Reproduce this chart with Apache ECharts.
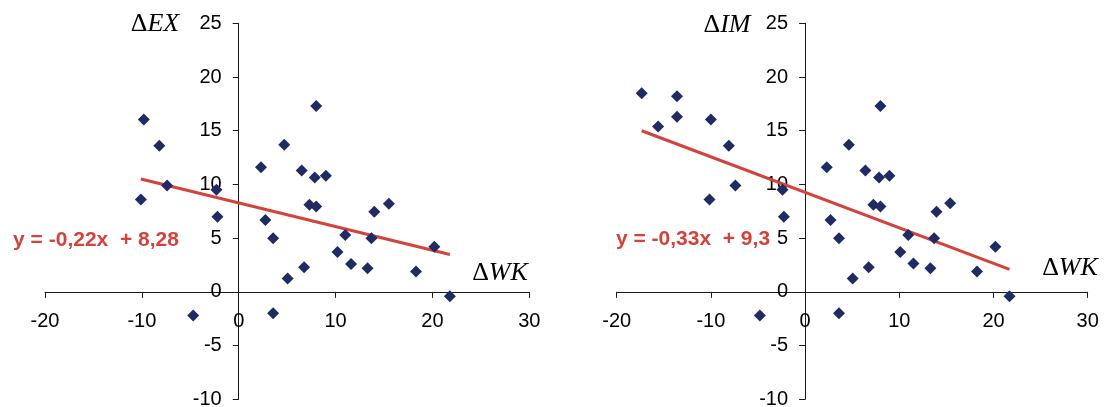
<!DOCTYPE html>
<html>
<head>
<meta charset="utf-8">
<script src="https://cdn.jsdelivr.net/npm/echarts@6/dist/echarts.min.js"></script>
<style>
html,body{margin:0;padding:0;background:#fff;}
#chart{width:1104px;height:407px;}
</style>
</head>
<body>
<div id="chart"></div>
<script>
// ---- data ----
const xAxisRange = [-20, 30, 10];   // min, max, interval (ΔWK)
const yAxisRange = [-10, 25, 5];    // min, max, interval

// Left panel: ΔWK vs ΔEX
const wkLeft = [-9.8, -8.2, -7.4, -10.1, -2.3, 2.3, 4.7, 6.5, 8.0, 7.85, 9.0, 7.3, 8.0, 14.0, 15.5,
  -2.2, 2.75, 3.55, 5.05, 6.75, 10.2, 11.0, 11.6, 13.3, 13.7, 18.3, 20.2, 21.8, -4.7, 3.55];
const exValues = [16.05, 13.6, 9.9, 8.6, 9.5, 11.6, 13.7, 11.3, 17.3, 10.65, 10.8, 8.1, 7.95, 7.45, 8.2,
  7.0, 6.7, 5.0, 1.25, 2.3, 3.7, 5.3, 2.6, 2.2, 5.0, 1.9, 4.2, -0.4, -2.2, -2.0];

// Right panel: ΔWK vs ΔIM
const wkRight = [-17.35, -15.6, -13.6, -13.6, -10.0, -8.1, -7.4, -10.15, -2.4, 2.3, 4.65, 6.4, 8.0, 7.85, 8.95, 7.25, 8.0, 13.95, 15.4,
  -2.25, 2.7, 3.6, 5.05, 6.75, 10.1, 10.95, 11.5, 13.3, 13.7, 18.25, 20.2, 21.7, -4.8, 3.6];
const imValues = [18.5, 15.4, 18.2, 16.3, 16.05, 13.6, 9.9, 8.6, 9.5, 11.6, 13.7, 11.3, 17.3, 10.65, 10.8, 8.1, 7.95, 7.45, 8.25,
  7.0, 6.7, 5.0, 1.25, 2.3, 3.7, 5.3, 2.65, 2.2, 5.0, 1.9, 4.2, -0.4, -2.2, -2.0];

// Trend lines (end points as drawn)
const trendLeftX = [-10.1, 21.8];
const trendLeftY = [10.5, 3.48];
const trendRightX = [-17.35, 21.7];
const trendRightY = [15.0, 2.1];

const eqLeft = 'y = -0,22x  + 8,28';
const eqRight = 'y = -0,33x  + 9,3';
const titleLeftY = 'EX';
const titleRightY = 'IM';
const titleX = 'WK';

// ---- chart ----
const pts = (xs, ys) => xs.map((x, i) => [x, ys[i]]);
const markerColor = '#1f2b62';
const lineColor = '#d4423c';
const fontSans = '"Liberation Sans", Arial, sans-serif';
const fontSerif = '"Liberation Serif", "Times New Roman", serif';

const gridTop = 23.3, gridH = 376;
const grids = [
  { left: 45, width: 484.3 },
  { left: 616.7, width: 471 }
];
// axes cross at zero: shift each axis into the plot by the distance to the zero of the other axis
function yZeroOffset() {
  return -gridH * (0 - yAxisRange[0]) / (yAxisRange[1] - yAxisRange[0]);
}
function xZeroOffset(gi) {
  return -grids[gi].width * (0 - xAxisRange[0]) / (xAxisRange[1] - xAxisRange[0]);
}

function xAx(gi) {
  return {
    gridIndex: gi, type: 'value', position: 'bottom', offset: yZeroOffset(),
    min: xAxisRange[0], max: xAxisRange[1], interval: xAxisRange[2],
    axisLine: { show: true, onZero: false, lineStyle: { color: '#1a1a1a', width: 1 } },
    axisTick: { show: true, inside: false, length: 6, lineStyle: { color: '#1a1a1a' } },
    axisLabel: { show: true, color: '#000', fontSize: 20, fontFamily: fontSans, margin: 20 },
    splitLine: { show: false }
  };
}
function yAx(gi) {
  return {
    gridIndex: gi, type: 'value', position: 'left', offset: xZeroOffset(gi),
    min: yAxisRange[0], max: yAxisRange[1], interval: yAxisRange[2],
    axisLine: { show: true, onZero: false, lineStyle: { color: '#1a1a1a', width: 1 } },
    axisTick: { show: true, inside: false, length: 6, lineStyle: { color: '#1a1a1a' } },
    axisLabel: { show: true, color: '#000', fontSize: 20, fontFamily: fontSans, margin: 17 },
    splitLine: { show: false }
  };
}
function richTitle(name, x, y) {
  return {
    type: 'text', x: x, y: y,
    style: {
      text: '{d|Δ}{i|' + name + '}',
      align: 'center', verticalAlign: 'middle',
      rich: {
        d: { fontFamily: fontSerif, fontSize: 26, fill: '#000', fontStyle: 'normal' },
        i: { fontFamily: fontSerif, fontSize: 26, fill: '#000', fontStyle: 'italic' }
      }
    }
  };
}
function eqText(t, x, y) {
  return {
    type: 'text', x: x, y: y,
    style: { text: t, align: 'center', verticalAlign: 'middle', fill: lineColor,
      font: 'bold 21px ' + fontSans }
  };
}

const chart = echarts.init(document.getElementById('chart'), null, { renderer: 'canvas' });
chart.setOption({
  animation: false,
  backgroundColor: '#fff',
  grid: grids.map(g => ({ left: g.left, top: gridTop, width: g.width, height: gridH,
    containLabel: false, outerBoundsMode: 'none' })),
  xAxis: [xAx(0), xAx(1)],
  yAxis: [yAx(0), yAx(1)],
  series: [
    { type: 'line', xAxisIndex: 0, yAxisIndex: 0, data: pts(trendLeftX, trendLeftY), symbol: 'none',
      lineStyle: { color: lineColor, width: 3 }, z: 2 },
    { type: 'scatter', xAxisIndex: 0, yAxisIndex: 0, data: pts(wkLeft, exValues), symbol: 'diamond',
      symbolSize: 12, itemStyle: { color: markerColor, opacity: 1 }, z: 3 },
    { type: 'line', xAxisIndex: 1, yAxisIndex: 1, data: pts(trendRightX, trendRightY), symbol: 'none',
      lineStyle: { color: lineColor, width: 3 }, z: 2 },
    { type: 'scatter', xAxisIndex: 1, yAxisIndex: 1, data: pts(wkRight, imValues), symbol: 'diamond',
      symbolSize: 12, itemStyle: { color: markerColor, opacity: 1 }, z: 3 }
  ],
  graphic: [
    richTitle(titleLeftY, 155, 24),
    richTitle(titleRightY, 727, 25),
    richTitle(titleX, 500, 273),
    richTitle(titleX, 1070, 268),
    eqText(eqLeft, 96, 240),
    eqText(eqRight, 693, 239)
  ]
});
</script>
</body>
</html>
